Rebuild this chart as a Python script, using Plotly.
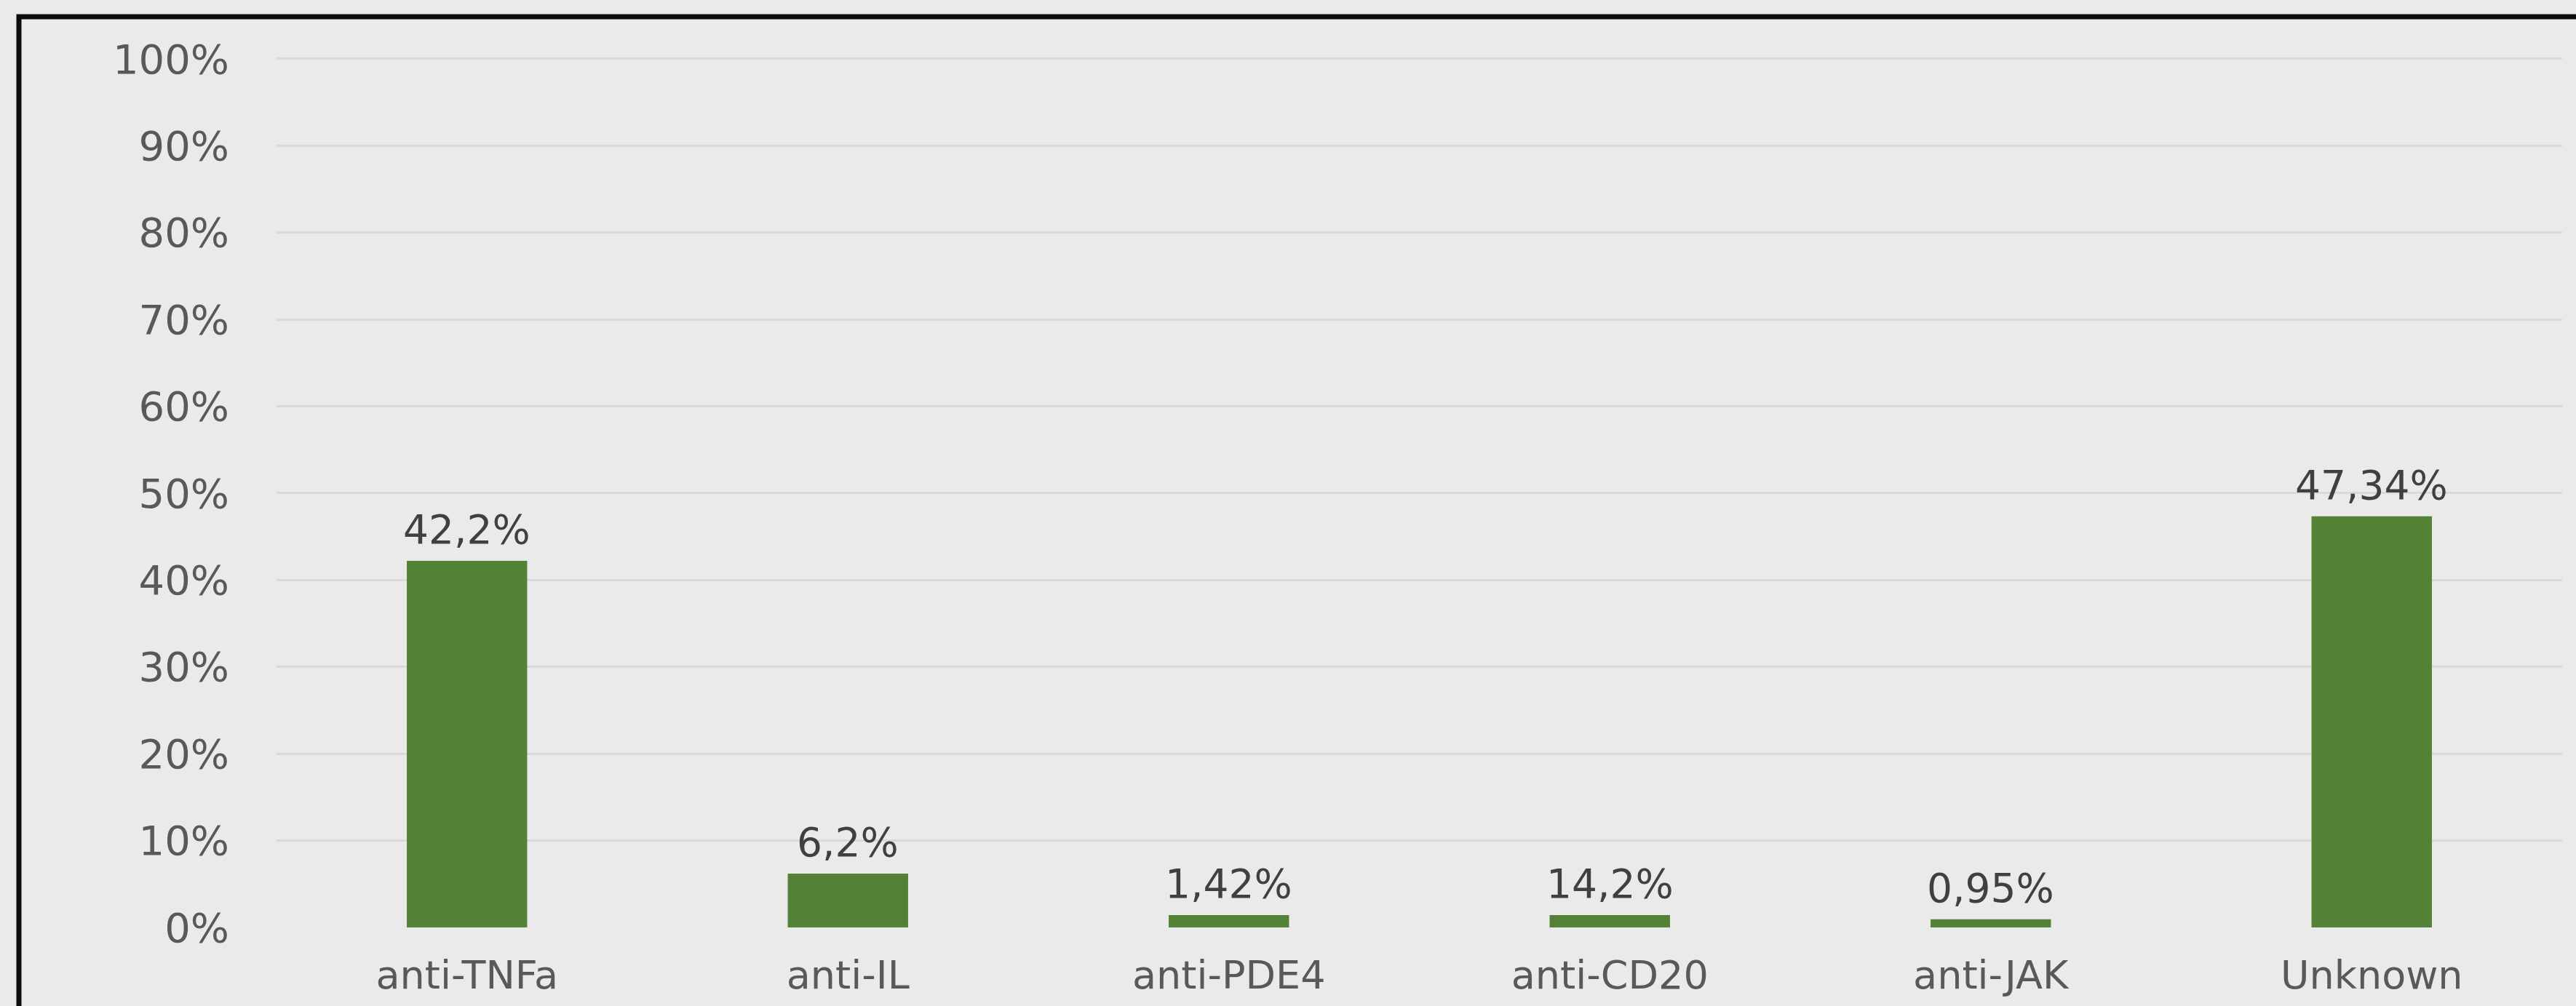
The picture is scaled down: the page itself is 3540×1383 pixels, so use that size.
import plotly.graph_objects as go

categories = ["anti-TNFa", "anti-IL", "anti-PDE4", "anti-CD20", "anti-JAK", "Unknown"]
values = [42.2, 6.2, 1.42, 1.42, 0.95, 47.34]
value_labels = ["42,2%", "6,2%", "1,42%", "14,2%", "0,95%", "47,34%"]
y_ticks = [0, 10, 20, 30, 40, 50, 60, 70, 80, 90, 100]
y_tick_labels = [f"{v}%" for v in y_ticks]

W, H = 3540, 1383
ML, MR, MT, MB = 380, 19, 75, 108
pw = W - ML - MR
ph = H - MT - MB

BG = "#EAEAEA"
FONT = "DejaVu Sans"

fig = go.Figure()
fig.add_trace(go.Bar(
    x=categories, y=values,
    marker=dict(color="#538135", line=dict(width=0)),
    hoverinfo="skip",
))

for c, v, t in zip(categories, values, value_labels):
    fig.add_annotation(
        x=c, y=v, text=t, showarrow=False,
        xref="x", yref="y", yanchor="middle", yshift=43,
        font=dict(family=FONT, size=55, color="#404040"),
    )

# frame (left and top edges visible, extends off canvas)
bx = (26 - ML) / pw
by = (H - MB - 23) / ph
fig.add_shape(type="rect", xref="paper", yref="paper",
              x0=bx, x1=1.2, y0=-0.3, y1=by,
              line=dict(color="#0d0d0d", width=7), fillcolor="rgba(0,0,0,0)",
              layer="above")

fig.update_layout(
    width=W, height=H,
    margin=dict(l=ML, r=MR, t=MT, b=MB, autoexpand=False),
    paper_bgcolor=BG, plot_bgcolor=BG,
    bargap=0.684,
    showlegend=False,
    font=dict(family=FONT, color="#595959"),
)
fig.update_xaxes(
    showgrid=False, showline=False, zeroline=False,
    ticks="", ticklabelstandoff=29,
    tickfont=dict(family=FONT, size=54, color="#595959"),
)
fig.update_yaxes(
    range=[0, 100.5], tickmode="array", tickvals=y_ticks, ticktext=y_tick_labels,
    showgrid=True, gridcolor="#D9D9D9", gridwidth=3,
    zeroline=False, showline=False, ticks="",
    ticklabelstandoff=64,
    tickfont=dict(family=FONT, size=56, color="#595959"),
)

fig.write_html("out.html")
